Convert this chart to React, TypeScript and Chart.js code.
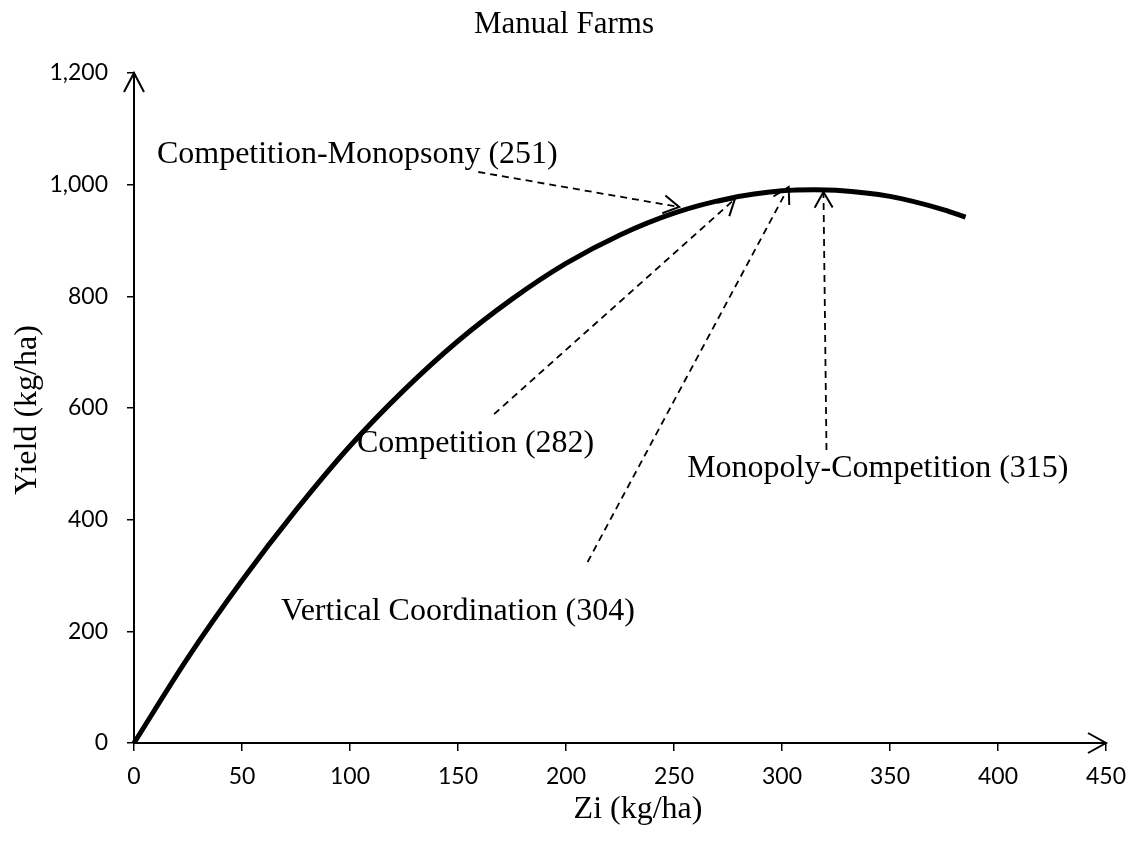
import React, { useEffect, useRef } from 'react';
import { Chart, registerables } from 'chart.js';

Chart.register(...registerables);

// ---- data ----
const zi = [0, 25, 50, 75, 100, 125, 150, 175, 200, 225, 250, 275, 300, 315, 325, 350, 375, 385];
const yieldKg = [0, 153, 291, 417, 532, 632, 720, 795, 859, 910, 949, 975, 989, 991, 990, 979, 955, 942];

const xMin = 0;
const xMax = 450;
const xStep = 50;
const yMin = 0;
const yMax = 1200;
const yStep = 200;

const labelTexts = [
  'Competition-Monopsony (251)',
  'Competition (282)',
  'Vertical Coordination (304)',
  'Monopoly-Competition (315)',
];
const labelX = [10.6, 103.2, 68.1, 256.1];
const labelY = [1038.8, 521.2, 221.0, 476.4];

const arrowFromX = [159.4, 166.7, 210.0, 320.6];
const arrowFromY = [1022.7, 589.0, 324.2, 524.8];
const arrowToX = [252.4, 278.2, 303.1, 319.2];
const arrowToY = [960.0, 974.3, 995.8, 986.9];

const titleText = 'Manual Farms';
const xTitleText = 'Zi (kg/ha)';
const yTitleText = 'Yield (kg/ha)';

const SERIF = '"Liberation Serif", "Times New Roman", serif';
const SANS = 'Lato, "Noto Sans", sans-serif';

function drawHead(ctx: CanvasRenderingContext2D, fx: number, fy: number, tx: number, ty: number, len: number, ang: number) {
  const a = Math.atan2(ty - fy, tx - fx);
  ctx.beginPath();
  ctx.moveTo(tx - len * Math.cos(a - ang), ty - len * Math.sin(a - ang));
  ctx.lineTo(tx, ty);
  ctx.lineTo(tx - len * Math.cos(a + ang), ty - len * Math.sin(a + ang));
  ctx.stroke();
}

const annotPlugin = {
  id: 'annotations',
  afterDraw(c: any) {
    const ctx: CanvasRenderingContext2D = c.ctx;
    const xs = c.scales.x;
    const ys = c.scales.y;
    ctx.save();
    ctx.strokeStyle = '#000';
    ctx.fillStyle = '#000';
    ctx.lineCap = 'butt';
    ctx.lineJoin = 'miter';

    // axis arrowheads
    ctx.lineWidth = 2;
    ctx.setLineDash([]);
    const ax = xs.getPixelForValue(xMin);
    const axMax = xs.getPixelForValue(xMax);
    const ay = ys.getPixelForValue(yMin);
    const ayMax = ys.getPixelForValue(yMax);
    ctx.beginPath();
    ctx.moveTo(ax - 10, ayMax + 19);
    ctx.lineTo(ax, ayMax);
    ctx.lineTo(ax + 10, ayMax + 19);
    ctx.stroke();
    ctx.beginPath();
    ctx.moveTo(axMax - 18, ay - 10);
    ctx.lineTo(axMax, ay);
    ctx.lineTo(axMax - 18, ay + 10);
    ctx.stroke();

    // dashed annotation arrows
    for (let i = 0; i < arrowFromX.length; i++) {
      const fx = xs.getPixelForValue(arrowFromX[i]);
      const fy = ys.getPixelForValue(arrowFromY[i]);
      const tx = xs.getPixelForValue(arrowToX[i]);
      const ty = ys.getPixelForValue(arrowToY[i]);
      ctx.lineWidth = 1.8;
      ctx.setLineDash([7, 5]);
      ctx.beginPath();
      ctx.moveTo(fx, fy);
      ctx.lineTo(tx, ty);
      ctx.stroke();
      ctx.setLineDash([]);
      ctx.lineWidth = 2;
      drawHead(ctx, fx, fy, tx, ty, 18, Math.PI / 6);
    }

    // annotation labels
    ctx.font = `32px ${SERIF}`;
    ctx.textAlign = 'left';
    ctx.textBaseline = 'alphabetic';
    for (let i = 0; i < labelTexts.length; i++) {
      ctx.fillText(labelTexts[i], xs.getPixelForValue(labelX[i]), ys.getPixelForValue(labelY[i]));
    }

    // chart title
    ctx.font = `31px ${SERIF}`;
    ctx.textAlign = 'center';
    ctx.fillText(titleText, 564, 33);

    // x axis title
    ctx.font = `32px ${SERIF}`;
    ctx.fillText(xTitleText, 638, 818);

    // y axis title
    ctx.translate(36, 410);
    ctx.rotate(-Math.PI / 2);
    ctx.fillText(yTitleText, 0, 0);

    ctx.restore();
  },
};

export default function App() {
  const ref = useRef<HTMLCanvasElement>(null);

  useEffect(() => {
    let chart: Chart | null = null;
    let cancelled = false;
    const make = () => {
      if (cancelled || !ref.current) return;
      chart = new Chart(ref.current, {
        type: 'line',
        data: {
          datasets: [
            {
              data: zi.map((x, i) => ({ x, y: yieldKg[i] })),
              borderColor: '#000',
              borderWidth: 5,
              pointRadius: 0,
              fill: false,
              cubicInterpolationMode: 'monotone',
              clip: false as any,
            },
          ],
        },
        options: {
          responsive: false,
          animation: false,
          devicePixelRatio: 1,
          layout: { padding: { left: 0, top: 73, right: 27, bottom: 0 } },
          plugins: {
            legend: { display: false },
            title: { display: false },
            tooltip: { enabled: false },
          },
          scales: {
            x: {
              type: 'linear',
              min: xMin,
              max: xMax,
              ticks: {
                stepSize: xStep,
                color: '#000',
                font: { family: SANS, size: 23 },
                padding: 12,
                maxRotation: 0,
                autoSkip: false,
              },
              grid: { drawOnChartArea: false, drawTicks: true, tickLength: 8, color: '#000', lineWidth: 1.5 },
              border: { display: true, color: '#000', width: 2 },
              afterFit: (s: any) => {
                s.height = 99;
              },
            },
            y: {
              type: 'linear',
              min: yMin,
              max: yMax,
              ticks: {
                stepSize: yStep,
                color: '#000',
                font: { family: SANS, size: 23 },
                padding: 19,
                callback: (v: any) => Number(v).toLocaleString('en-US'),
              },
              grid: { drawOnChartArea: false, drawTicks: true, tickLength: 7, color: '#000', lineWidth: 1.5 },
              border: { display: true, color: '#000', width: 2 },
              afterFit: (s: any) => {
                s.width = 134;
              },
            },
          },
        },
        plugins: [annotPlugin],
      } as any);
    };
    const fonts = (document as any).fonts;
    if (fonts && fonts.load) {
      Promise.all([fonts.load(`23px Lato`), fonts.load(`32px "Liberation Serif"`)]).then(make, make);
    } else {
      make();
    }
    return () => {
      cancelled = true;
      if (chart) chart.destroy();
    };
  }, []);

  return (
    <div style={{ position: 'fixed', left: 0, top: 0, width: 1138, height: 842, background: '#fff' }}>
      <canvas ref={ref} width={1138} height={842} style={{ width: 1138, height: 842, display: 'block' }} />
    </div>
  );
}
